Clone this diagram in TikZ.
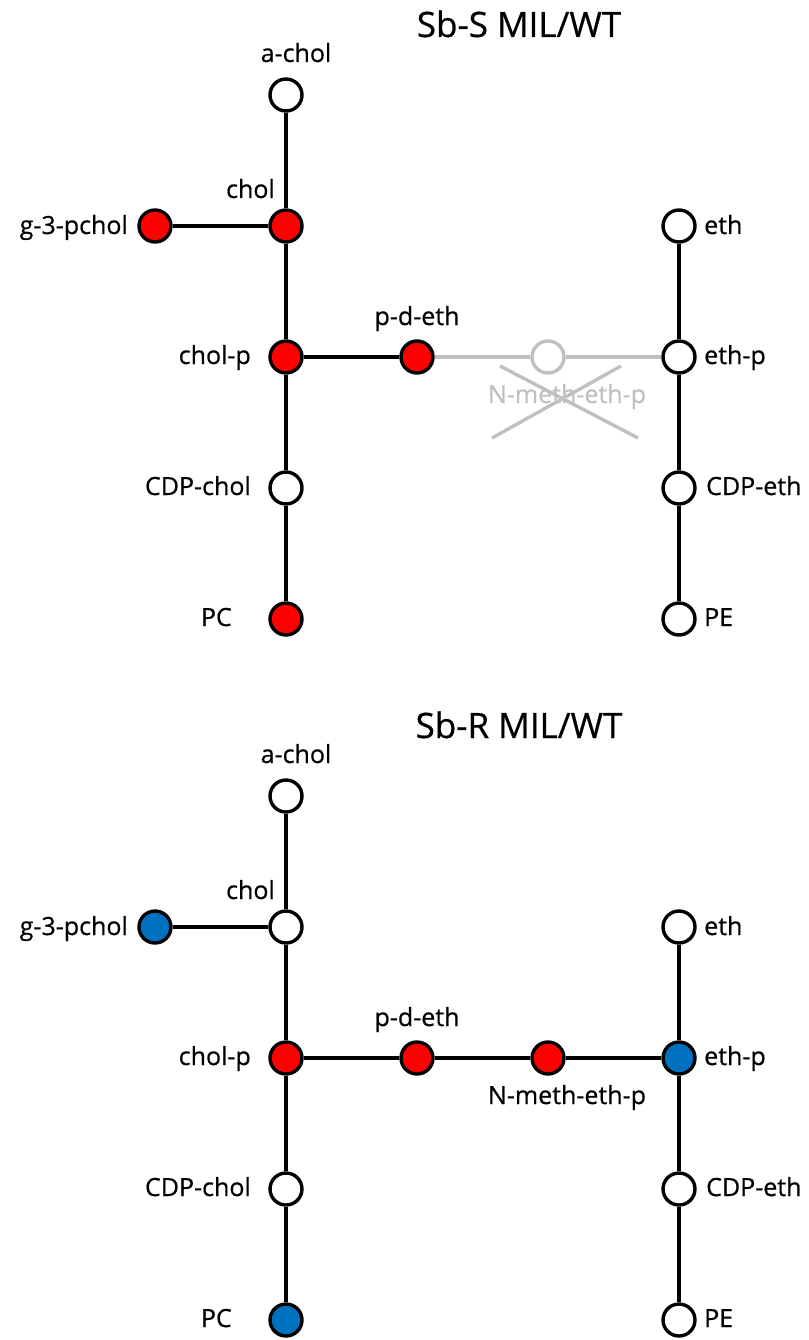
\documentclass[tikz,border=0pt]{standalone}
\usepackage{fontspec}
\setmainfont{Open Sans}
\newfontfamily\lblfont{Open Sans}[FakeBold=0.6]
\begin{document}
\begin{tikzpicture}[x=1pt,y=-1pt,
  met/.style={circle,draw=black,line width=3.4pt,minimum size=32pt,inner sep=0pt,fill=white},
  redm/.style={met,fill=red},
  bluem/.style={met,fill={rgb,255:red,0;green,112;blue,192}},
  grym/.style={met,draw=grayc},
  lnk/.style={line width=3.4pt,draw=black},
  glnk/.style={line width=3.4pt,draw=grayc},
  lbl/.style={font=\lblfont\fontsize{25}{30}\selectfont,inner sep=0pt},
  ttl/.style={font=\lblfont\fontsize{35}{40}\selectfont,inner sep=0pt}
]
\definecolor{grayc}{RGB}{192,192,192}
\useasboundingbox (0,0) rectangle (808,1340);

% ---------- top panel ----------
\node[ttl,anchor=base] (t1) at (519,37) {Sb-S MIL/WT};
\node[met]  (achol1) at (286,95) {};
\node[redm] (chol1) at (286,226) {};
\node[redm] (g3p1) at (155,226) {};
\node[redm] (cholp1) at (286,357) {};
\node[redm] (pde1) at (417,357) {};
\node[grym] (nme1) at (548,357) {};
\node[met]  (eth1) at (679,226) {};
\node[met]  (ethp1) at (679,357) {};
\node[met]  (cdpc1) at (286,488) {};
\node[met]  (cdpe1) at (679,488) {};
\node[redm] (pc1) at (286,619) {};
\node[met]  (pe1) at (679,619) {};

\draw[lnk] (achol1) -- (chol1);
\draw[lnk] (chol1) -- (cholp1);
\draw[lnk] (cholp1) -- (cdpc1);
\draw[lnk] (cdpc1) -- (pc1);
\draw[lnk] (g3p1) -- (chol1);
\draw[lnk] (cholp1) -- (pde1);
\draw[glnk] (pde1) -- (nme1);
\draw[glnk] (nme1) -- (ethp1);
\draw[lnk] (eth1) -- (ethp1);
\draw[lnk] (ethp1) -- (cdpe1);
\draw[lnk] (cdpe1) -- (pe1);

\node[lbl,anchor=base] (la1) at (296,62) {a-chol};
\node[lbl,anchor=base east] (lc1) at (275,198) {chol};
\node[lbl,anchor=base east] (lg1) at (128,234) {g-3-pchol};
\node[lbl,anchor=base east] (lcp1) at (251,364) {chol-p};
\node[lbl,anchor=base east] (lcc1) at (251,495) {CDP-chol};
\node[lbl,anchor=base east] (lpc1) at (232,626) {PC};
\node[lbl,anchor=base] (lpd1) at (417,325) {p-d-eth};
\node[lbl,anchor=base,text=grayc] (lnm1) at (567,403) {N-meth-eth-p};
\node[lbl,anchor=base west] (le1) at (704,234) {eth};
\node[lbl,anchor=base west] (lep1) at (704,364) {eth-p};
\node[lbl,anchor=base west] (lce1) at (706,495) {CDP-eth};
\node[lbl,anchor=base west] (lpe1) at (704,626) {PE};

\coordinate (xa1) at (492,438);
\coordinate (xb1) at (621,366);
\coordinate (xc1) at (500,366);
\coordinate (xd1) at (638,438);
\draw[glnk] (xa1) -- (xb1);
\draw[glnk] (xc1) -- (xd1);

% ---------- bottom panel ----------
\begin{scope}[yshift=-701pt]
\node[ttl,anchor=base] (t2) at (519,37) {Sb-R MIL/WT};
\node[met]   (achol2) at (286,95) {};
\node[met]   (chol2) at (286,226) {};
\node[bluem] (g3p2) at (155,226) {};
\node[redm]  (cholp2) at (286,357) {};
\node[redm]  (pde2) at (417,357) {};
\node[redm]  (nme2) at (548,357) {};
\node[met]   (eth2) at (679,226) {};
\node[bluem] (ethp2) at (679,357) {};
\node[met]   (cdpc2) at (286,488) {};
\node[met]   (cdpe2) at (679,488) {};
\node[bluem] (pc2) at (286,619) {};
\node[met]   (pe2) at (679,619) {};

\draw[lnk] (achol2) -- (chol2);
\draw[lnk] (chol2) -- (cholp2);
\draw[lnk] (cholp2) -- (cdpc2);
\draw[lnk] (cdpc2) -- (pc2);
\draw[lnk] (g3p2) -- (chol2);
\draw[lnk] (cholp2) -- (pde2);
\draw[lnk] (pde2) -- (nme2);
\draw[lnk] (nme2) -- (ethp2);
\draw[lnk] (eth2) -- (ethp2);
\draw[lnk] (ethp2) -- (cdpe2);
\draw[lnk] (cdpe2) -- (pe2);

\node[lbl,anchor=base] (la2) at (296,62) {a-chol};
\node[lbl,anchor=base east] (lc2) at (275,198) {chol};
\node[lbl,anchor=base east] (lg2) at (128,234) {g-3-pchol};
\node[lbl,anchor=base east] (lcp2) at (251,364) {chol-p};
\node[lbl,anchor=base east] (lcc2) at (251,495) {CDP-chol};
\node[lbl,anchor=base east] (lpc2) at (232,626) {PC};
\node[lbl,anchor=base] (lpd2) at (417,325) {p-d-eth};
\node[lbl,anchor=base] (lnm2) at (567,403) {N-meth-eth-p};
\node[lbl,anchor=base west] (le2) at (704,234) {eth};
\node[lbl,anchor=base west] (lep2) at (704,364) {eth-p};
\node[lbl,anchor=base west] (lce2) at (706,495) {CDP-eth};
\node[lbl,anchor=base west] (lpe2) at (704,626) {PE};
\end{scope}
\end{tikzpicture}
\end{document}
